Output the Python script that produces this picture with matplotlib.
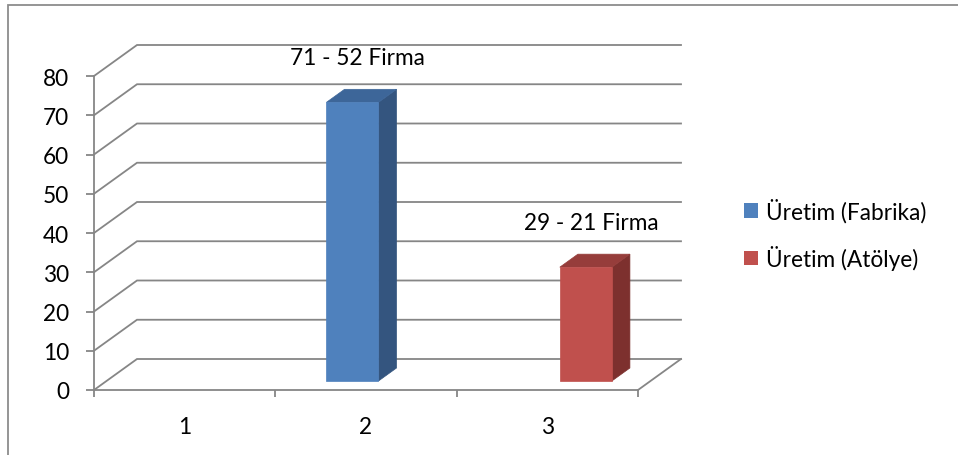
import matplotlib.pyplot as plt
from matplotlib.patches import Polygon, Rectangle

# Veriler
kategoriler = [1, 2, 3]
fabrika = [0, 71, 0]
atolye = [0, 0, 29]
seri_adlari = ['Üretim (Fabrika)', 'Üretim (Atölye)']
etiketler = {('fabrika', 1): '71 - 52 Firma', ('atolye', 2): '29 - 21 Firma'}
y_ticks = [0, 10, 20, 30, 40, 50, 60, 70, 80]

plt.rcParams['font.family'] = ['Lato', 'DejaVu Sans']
FS = 16.3
GRID = '#868686'

fig = plt.figure(figsize=(9.58, 4.56), dpi=100)
W, H = 958, 456

# eksen: ön düzlem x 94..638 (0.5..3.5), y 391 (0) .. 77 (80)
px_cat = (638 - 94) / 3
px_val = (391 - 77) / 80
left, right, bottom, top = 94, 683, 391, 30
ax = fig.add_axes([left / W, (H - bottom) / H, (right - left) / W, (bottom - top) / H])
ax.set_xlim(0.5, 0.5 + (right - left) / px_cat)
ax.set_ylim(0, (bottom - top) / px_val)

# derinlik ofseti (3B görünüm)
ddx = 43 / px_cat
ddy = 31 / px_val

# arka duvar ızgara çizgileri
x0, x1 = 0.5, 3.5
for v in y_ticks:
    ax.plot([x0, x0 + ddx, x1 + ddx], [v, v + ddy, v + ddy], color=GRID, lw=1.3,
            clip_on=False, zorder=1, solid_joinstyle='miter')
# zemin sağ kenarı
ax.plot([x1, x1 + ddx], [0, ddy], color=GRID, lw=1.3, clip_on=False, zorder=1)

# 3B sütunlar
w = 0.287
d_on, d_arka = 0.29, 0.71
renkler = {
    'fabrika': ('#4F81BD', '#34557F', '#3D6699'),
    'atolye': ('#C0504D', '#7D302E', '#963D3B'),
}
seriler = [('fabrika', fabrika, -1), ('atolye', atolye, 0)]
for ad, degerler, kay in seriler:
    on_r, yan_r, ust_r = renkler[ad]
    for i, (c, v) in enumerate(zip(kategoriler, degerler)):
        if v == 0:
            continue
        xa = c + kay * w + d_on * ddx
        ya = d_on * ddy
        xb = xa + w
        ox = (d_arka - d_on) * ddx
        oy = (d_arka - d_on) * ddy
        ax.add_patch(Polygon([(xb, ya), (xb + ox, ya + oy), (xb + ox, ya + oy + v), (xb, ya + v)],
                             closed=True, fc=yan_r, ec=yan_r, lw=0.5, zorder=3, clip_on=False))
        ax.add_patch(Polygon([(xa, ya + v), (xb, ya + v), (xb + ox, ya + oy + v), (xa + ox, ya + oy + v)],
                             closed=True, fc=ust_r, ec=ust_r, lw=0.5, zorder=3, clip_on=False))
        ax.add_patch(Rectangle((xa, ya), w, v, fc=on_r, ec=on_r, lw=0.5, zorder=4, clip_on=False))
        if (ad, i) in etiketler:
            ax.text(xa + w / 2 + 0.03, v + 13.8, etiketler[(ad, i)], ha='center', va='center',
                    fontsize=FS, color='black', zorder=5)

# eksenler
for s in ['top', 'right']:
    ax.spines[s].set_visible(False)
ax.spines['left'].set_bounds(0, 80)
ax.spines['bottom'].set_bounds(0.5, 3.5)
for s in ['left', 'bottom']:
    ax.spines[s].set_color(GRID)
    ax.spines[s].set_linewidth(1.3)
    ax.spines[s].set_zorder(6)
ax.set_yticks(y_ticks)
ax.tick_params(axis='y', length=6, width=1.3, color=GRID, labelsize=FS, pad=12)
ax.set_xticks(kategoriler)
ax.set_xticklabels([str(k) for k in kategoriler])
ax.set_xticks([0.5, 1.5, 2.5, 3.5], minor=True)
ax.tick_params(axis='x', which='major', length=0, labelsize=FS, pad=19)
ax.tick_params(axis='x', which='minor', length=5, width=1.3, color=GRID)
ax.patch.set_alpha(0)

# lejant
tutamaclar = [Rectangle((0, 0), 1, 1, fc=renkler['fabrika'][0]),
              Rectangle((0, 0), 1, 1, fc=renkler['atolye'][0])]
leg = fig.legend(tutamaclar, seri_adlari, loc='center left', bbox_to_anchor=(733 / W, 1 - 235 / H),
                 frameon=False, fontsize=FS, handlelength=0.6, handleheight=0.6,
                 handletextpad=0.35, labelspacing=1.0, borderpad=0)

# dış çerçeve
fig.patches.append(Rectangle((8 / W, -0.1), 1.2, (H - 6) / H + 0.1, transform=fig.transFigure,
                             fill=False, ec='#8C8C8C', lw=1.3))

plt.savefig('out.png', dpi=100)
